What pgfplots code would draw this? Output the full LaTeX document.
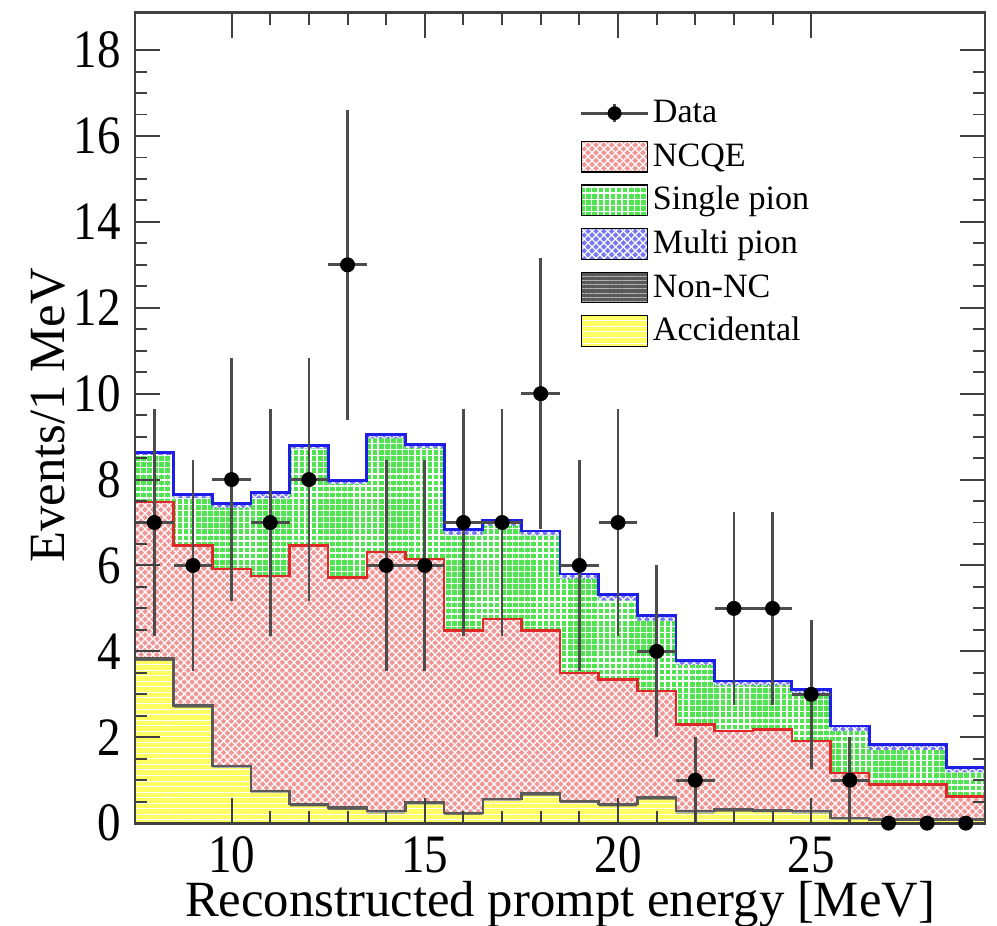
\documentclass[border=0pt]{standalone}
\usepackage{fontspec}
\setmainfont{Liberation Serif}
\newfontfamily\tickfont{Liberation Serif}[FakeStretch=0.87]
\usepackage{pgfplots}
\pgfplotsset{compat=1.18}
\usepackage{pgfplotstable}
\usetikzlibrary{patterns.meta}

\definecolor{ncqe}{RGB}{240,150,150}
\definecolor{ncqeline}{RGB}{225,40,40}
\definecolor{spi}{RGB}{80,228,80}
\definecolor{mpi}{RGB}{120,120,245}
\definecolor{mpiline}{RGB}{30,30,230}
\definecolor{nonnc}{RGB}{90,90,90}
\definecolor{acc}{RGB}{255,255,100}

\tikzset{
  hatchR/.style={pattern={Hatch[angle=45,distance=2pt,line width=0.45pt]},pattern color=white},
  hatchG/.style={pattern={Hatch[angle=0,distance=2.2pt,line width=0.55pt]},pattern color=white},
  hatchB/.style={pattern={Hatch[angle=45,distance=2pt,line width=0.45pt]},pattern color=white},
  hatchN/.style={pattern={Lines[angle=0,distance=1.5pt,line width=0.3pt]},pattern color=white!70!black},
  hatchY/.style={pattern={Lines[angle=0,distance=2pt,line width=0.3pt]},pattern color=white},
}

\pgfplotstableread{
x A N R G B
7.5 3.78 3.83 7.48 8.57 8.63
8.5 2.69 2.74 6.47 7.57 7.65
9.5 1.28 1.33 5.92 7.34 7.44
10.5 0.70 0.75 5.76 7.57 7.69
11.5 0.39 0.44 6.47 8.72 8.80
12.5 0.31 0.36 5.72 7.90 7.98
13.5 0.23 0.28 6.31 8.96 9.05
14.5 0.43 0.48 6.15 8.74 8.81
15.5 0.19 0.24 4.48 6.71 6.84
16.5 0.51 0.56 4.75 6.93 7.05
17.5 0.64 0.69 4.48 6.70 6.80
18.5 0.47 0.52 3.50 5.69 5.80
19.5 0.39 0.44 3.35 5.18 5.33
20.5 0.55 0.60 3.08 4.71 4.84
21.5 0.23 0.28 2.30 3.68 3.78
22.5 0.27 0.32 2.14 3.21 3.31
23.5 0.25 0.30 2.18 3.21 3.31
24.5 0.23 0.28 1.91 3.00 3.12
25.5 0.08 0.12 1.17 2.14 2.26
26.5 0.05 0.08 0.90 1.70 1.83
27.5 0.05 0.08 0.90 1.70 1.83
28.5 0.05 0.08 0.62 1.18 1.29
29.5 0.05 0.08 0.62 1.18 1.29
}\stacktab

\pgfplotstableread{
x y ex ey
8 7 0.5 2.65
9 6 0.5 2.45
10 8 0.5 2.83
11 7 0.5 2.65
12 8 0.5 2.83
13 13 0.5 3.61
14 6 0.5 2.45
15 6 0.5 2.45
16 7 0.5 2.65
17 7 0.5 2.65
18 10 0.5 3.16
19 6 0.5 2.45
20 7 0.5 2.65
21 4 0.5 2.00
22 1 0.5 1.00
23 5 0.5 2.24
24 5 0.5 2.24
25 3 0.5 1.73
26 1 0.5 1.00
27 0 0 0
28 0 0 0
29 0 0 0
}\datatab

\begin{document}
\begin{tikzpicture}
\begin{axis}[
  name=ax, scale only axis, width=306.6pt, height=292.3pt,
  xmin=7.5, xmax=29.5, ymin=0, ymax=18.87,
  xtick={10,15,20,25}, minor x tick num=4,
  ytick={0,2,...,18}, minor y tick num=3,
  tick align=inside, major tick length=9pt, minor tick length=4.3pt,
  axis on top,
  axis line style={line width=1pt, black!75},
  every tick/.style={black!75, line width=0.7pt},
  /pgf/number format/assume math mode=true,
  tick label style={font=\tickfont\fontsize{19.5}{22}\selectfont, inner sep=0pt},
  yticklabel style={xshift=-5pt},
  xticklabel style={yshift=-4.6pt},
  xlabel={Reconstructed prompt energy [MeV]},
  ylabel={Events/1 MeV},
  label style={font=\fontsize{18.3}{22}\selectfont, inner sep=0pt},
  xlabel style={at={(axis description cs:0.5,-0.1150)}, anchor=base},
  ylabel style={at={(axis description cs:-0.0835,0.5035)}, anchor=base},
  legend style={at={(axis cs:19.0,17.05)}, anchor=north west, draw=none, fill=none,
    font=\fontsize{12.3}{14}\selectfont, inner sep=0pt, row sep=0pt,
    nodes={text height=10pt, text depth=3pt, inner sep=1.35pt}},
  legend cell align=left,
]
% filled layers, drawn from the top of the stack down
\addplot[const plot, draw=none, forget plot, preaction={fill=mpi}, preaction={hatchB}] table[x=x,y=B]{\stacktab} \closedcycle;
\addplot[const plot, draw=none, forget plot, preaction={fill=spi}, preaction={hatchG}] table[x=x,y=G]{\stacktab} \closedcycle;
\addplot[const plot, draw=none, forget plot, preaction={fill=ncqe}, preaction={hatchR}] table[x=x,y=R]{\stacktab} \closedcycle;
\addplot[const plot, draw=none, forget plot, preaction={fill=nonnc}, preaction={hatchN}] table[x=x,y=N]{\stacktab} \closedcycle;
\addplot[const plot, draw=none, forget plot, preaction={fill=acc}, preaction={hatchY}] table[x=x,y=A]{\stacktab} \closedcycle;
% outlines
\addplot[const plot, mpiline, line width=1pt, forget plot] table[x=x,y=B]{\stacktab};
\addplot[const plot, ncqeline, line width=0.9pt, forget plot] table[x=x,y=R]{\stacktab};
\addplot[const plot, nonnc, line width=0.9pt, forget plot] table[x=x,y=N]{\stacktab};
% data
\addplot[forget plot, only marks, mark=*, mark size=2.5pt, black,
  error bars/.cd, x dir=both, x explicit, y dir=both, y explicit, error mark=none,
  error bar style={line width=1pt, black!70}]
  table[x=x, y=y, x error=ex, y error=ey]{\datatab};
% legend
\addlegendimage{legend image code/.code={
  \draw[black!70,line width=1pt] (0pt,0pt) -- (24pt,0pt);
  \draw[black!70,line width=1pt] (12pt,-3.3pt) -- (12pt,3.3pt);
  \fill[black] (12pt,0pt) circle (2.3pt);}}
\addlegendentry{Data}
\addlegendimage{legend image code/.code={\path[preaction={fill=ncqe},preaction={hatchR}] (0pt,-5.5pt) rectangle (24pt,5.5pt);}}
\addlegendentry{NCQE}
\addlegendimage{legend image code/.code={\path[preaction={fill=spi},preaction={hatchG}] (0pt,-5.5pt) rectangle (24pt,5.5pt);}}
\addlegendentry{Single pion}
\addlegendimage{legend image code/.code={\path[preaction={fill=mpi},preaction={hatchB}] (0pt,-5.5pt) rectangle (24pt,5.5pt);}}
\addlegendentry{Multi pion}
\addlegendimage{legend image code/.code={\path[preaction={fill=nonnc},preaction={hatchN}] (0pt,-5.5pt) rectangle (24pt,5.5pt);}}
\addlegendentry{Non-NC}
\addlegendimage{legend image code/.code={\path[preaction={fill=acc},preaction={hatchY}] (0pt,-5.5pt) rectangle (24pt,5.5pt);}}
\addlegendentry{Accidental}
\end{axis}
\pgfresetboundingbox
\useasboundingbox ([xshift=-48.7pt,yshift=-36.8pt]ax.south west) rectangle ([xshift=4.3pt,yshift=4.6pt]ax.north east);
\end{tikzpicture}
\end{document}
